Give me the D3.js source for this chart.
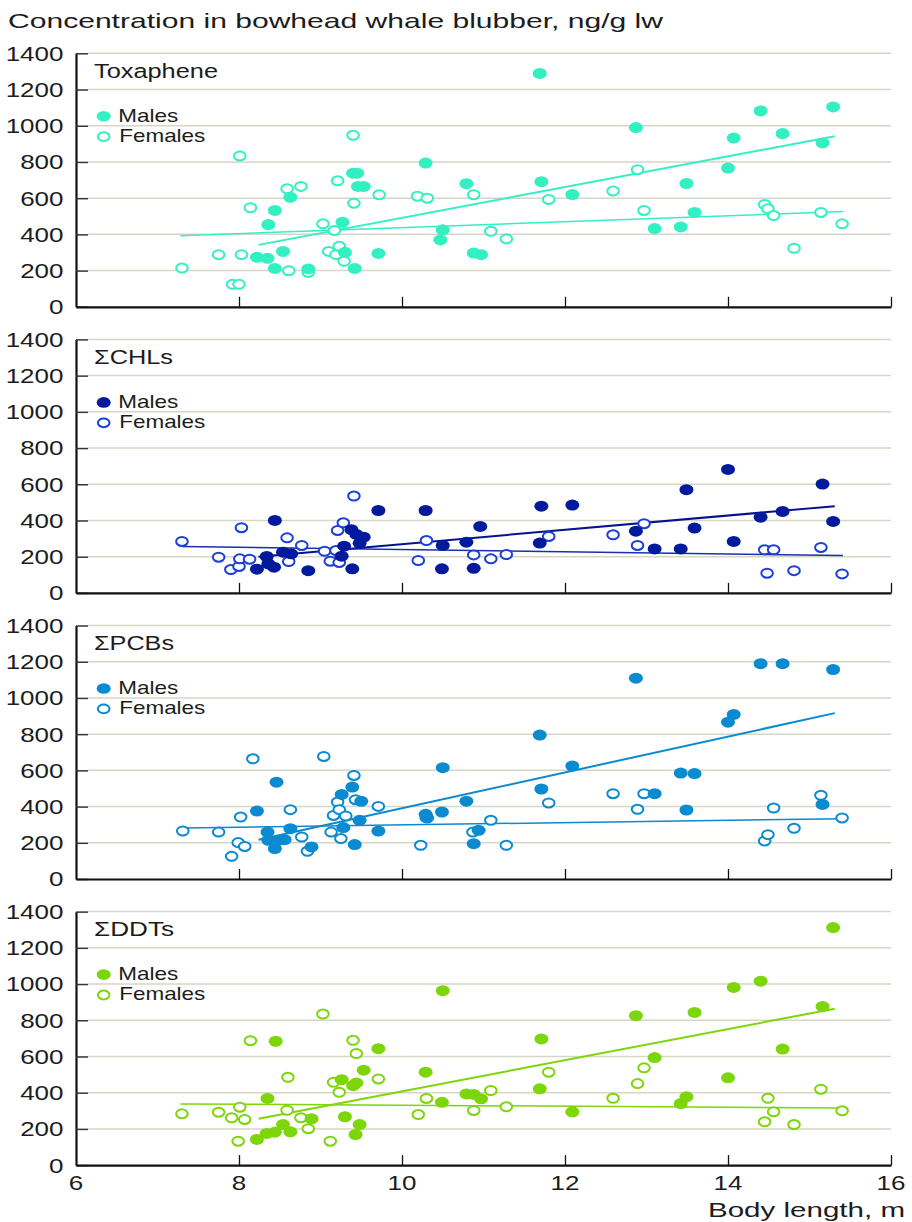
<!DOCTYPE html>
<html>
<head>
<meta charset="utf-8">
<script src="https://cdn.jsdelivr.net/npm/d3@7"></script>
<style>
  body { margin: 0; background: #fff; }
  svg { display: block; }
  text { font-family: "Liberation Sans", Arial, sans-serif; fill: #1c1c1c; }
</style>
</head>
<body>
<div id="chart"></div>
<script>
const width = 912
const height = 1222

const yTicks = [0, 200, 400, 600, 800, 1000, 1200, 1400]
const xTicks = [6, 8, 10, 12, 14, 16]
const panelNames = ['Toxaphene', '\u03A3CHLs', '\u03A3PCBs', '\u03A3DDTs']
const legendLabels = ['Males', 'Females']

// body length (m), concentration (ng/g lw)
const toxMales = [[8.22,273],[8.35,268],[8.36,454],[8.44,532],[8.44,212],[8.54,306],[8.63,605],[8.85,209],[9.27,467],[9.30,301],[9.40,738],[9.45,738],[9.42,212],[9.46,665],[9.53,665],[9.71,295],[10.29,794],[10.47,369],[10.50,425],[10.79,680],[10.88,297],[10.97,288],[11.69,1289],[11.71,691],[12.09,620],[12.87,990],[13.10,432],[13.42,441],[13.49,681],[13.59,521],[14.00,766],[14.07,932],[14.40,1082],[14.67,957],[15.16,905],[15.29,1104]]
const toxFemales = [[7.30,214],[7.75,288],[7.92,124],[8.00,124],[8.01,833],[8.03,288],[8.14,547],[8.59,652],[8.61,199],[8.76,665],[8.85,190],[9.03,458],[9.10,306],[9.17,421],[9.19,288],[9.21,696],[9.23,334],[9.29,251],[9.40,947],[9.41,572],[9.72,619],[10.19,611],[10.31,600],[10.88,619],[11.09,417],[11.28,375],[11.80,593],[12.59,639],[12.89,757],[12.97,532],[14.45,565],[14.49,541],[14.56,504],[14.81,323],[15.14,521],[15.40,458]]
const chlMales = [[8.22,131],[8.34,201],[8.36,160],[8.43,142],[8.44,400],[8.54,225],[8.64,216],[8.85,123],[9.26,203],[9.29,258],[9.38,349],[9.39,133],[9.44,323],[9.48,274],[9.53,308],[9.71,455],[10.29,455],[10.49,133],[10.50,262],[10.79,280],[10.88,136],[10.96,367],[11.69,275],[11.71,479],[12.09,485],[12.87,341],[13.10,243],[13.42,243],[13.49,570],[13.59,358],[14.00,682],[14.07,284],[14.40,418],[14.67,450],[15.16,601],[15.29,395]]
const chlFemales = [[7.30,284],[7.75,197],[7.90,129],[8.00,146],[8.01,188],[8.03,360],[8.13,186],[8.59,304],[8.61,173],[8.77,262],[9.05,230],[9.12,175],[9.19,234],[9.21,345],[9.23,168],[9.28,387],[9.41,535],[10.20,179],[10.30,289],[10.88,210],[11.09,188],[11.28,212],[11.80,312],[12.59,321],[12.89,262],[12.97,382],[14.45,238],[14.48,109],[14.56,238],[14.81,123],[15.14,251],[15.40,105]]
const pcbMales = [[8.22,375],[8.35,259],[8.36,214],[8.44,168],[8.46,535],[8.48,214],[8.56,217],[8.63,278],[8.89,177],[9.26,467],[9.28,284],[9.39,508],[9.42,190],[9.48,324],[9.50,429],[9.71,265],[10.29,357],[10.30,339],[10.49,370],[10.50,615],[10.79,430],[10.88,195],[10.94,269],[11.69,795],[11.71,497],[12.09,624],[12.87,1109],[13.10,471],[13.42,585],[13.49,381],[13.59,582],[14.00,866],[14.07,909],[14.40,1189],[14.67,1189],[15.16,412],[15.29,1157]]
const pcbFemales = [[7.31,265],[7.75,259],[7.91,125],[7.99,201],[8.02,342],[8.07,180],[8.17,664],[8.63,383],[8.77,232],[8.84,153],[9.04,677],[9.13,259],[9.16,351],[9.21,425],[9.23,383],[9.25,223],[9.31,348],[9.41,572],[9.43,438],[9.71,401],[10.23,186],[10.31,337],[10.87,259],[11.09,324],[11.28,186],[11.80,420],[12.59,471],[12.89,385],[12.97,471],[14.45,210],[14.49,245],[14.56,392],[14.81,280],[15.14,462],[15.40,337]]
const ddtMales = [[8.22,142],[8.34,175],[8.35,368],[8.44,182],[8.45,684],[8.54,224],[8.63,184],[8.89,256],[9.26,472],[9.30,267],[9.40,439],[9.43,169],[9.44,454],[9.48,224],[9.53,524],[9.71,643],[10.29,513],[10.49,347],[10.50,963],[10.79,393],[10.88,390],[10.97,366],[11.69,421],[11.71,697],[12.09,294],[12.87,825],[13.10,594],[13.42,340],[13.49,377],[13.59,843],[14.00,482],[14.07,981],[14.40,1016],[14.67,641],[15.16,876],[15.29,1312]]
const ddtFemales = [[7.30,283],[7.75,292],[7.91,261],[7.99,132],[8.01,320],[8.07,252],[8.14,687],[8.59,303],[8.60,485],[8.76,261],[8.85,201],[9.03,834],[9.12,132],[9.16,457],[9.23,402],[9.40,689],[9.44,616],[9.71,476],[10.20,279],[10.30,368],[10.88,302],[11.09,412],[11.28,322],[11.80,513],[12.59,369],[12.89,450],[12.97,537],[14.45,239],[14.49,369],[14.56,294],[14.81,224],[15.14,419],[15.40,300]]

// fitted lines, [start, end]
const toxMaleLine = [[8.24,342],[15.31,942]]
const toxFemaleLine = [[7.28,392],[15.41,526]]
const chlMaleLine = [[8.24,200],[15.31,479]]
const chlFemaleLine = [[7.30,256],[15.41,206]]
const pcbMaleLine = [[8.24,217],[15.31,916]]
const pcbFemaleLine = [[7.31,282],[15.41,333]]
const ddtMaleLine = [[8.24,256],[15.31,864]]
const ddtFemaleLine = [[7.28,338],[15.41,316]]

const panels = [
  { name: panelNames[0], nameLen: 124, males: toxMales, females: toxFemales, mLine: toxMaleLine, fLine: toxFemaleLine,
    fill: '#33f0c2', stroke: '#33f0c2', mColor: '#33f0c2', fColor: '#33f0c2' },
  { name: panelNames[1], nameLen: 79, males: chlMales, females: chlFemales, mLine: chlMaleLine, fLine: chlFemaleLine,
    fill: '#041a9c', stroke: '#1a40d8', mColor: '#06128c', fColor: '#1a2eb0' },
  { name: panelNames[2], nameLen: 80, males: pcbMales, females: pcbFemales, mLine: pcbMaleLine, fLine: pcbFemaleLine,
    fill: '#0a8ad0', stroke: '#0a8ad0', mColor: '#0a8ad0', fColor: '#0a8ad0' },
  { name: panelNames[3], nameLen: 80, males: ddtMales, females: ddtFemales, mLine: ddtMaleLine, fLine: ddtFemaleLine,
    fill: '#7cd60a', stroke: '#7cd60a', mColor: '#7cd60a', fColor: '#7cd60a' }
]

const left = 76, right = 891
const firstTop = 53.3, panelH = 253.5, step = 286.1

const svg = d3.select('#chart').append('svg')
  .attr('width', width)
  .attr('height', height)

const x = d3.scaleLinear().domain([6, 16]).range([left, right])

svg.append('text')
  .attr('x', 8).attr('y', 28)
  .attr('font-size', 21)
  .attr('textLength', 655).attr('lengthAdjust', 'spacingAndGlyphs')
  .text('Concentration in bowhead whale blubber, ng/g lw')

panels.forEach((p, i) => {
  const top = firstTop + i * step
  const bottom = top + panelH
  const y = d3.scaleLinear().domain([0, 1400]).range([bottom, top])
  const g = svg.append('g')

  // grid
  g.selectAll('line.grid')
    .data(yTicks.filter(d => d > 0))
    .join('line')
    .attr('x1', left + 12).attr('x2', right)
    .attr('y1', d => y(d)).attr('y2', d => y(d))
    .attr('stroke', '#d7d5c6').attr('stroke-width', 1.5)

  // axes
  const yAxis = g.append('g')
    .attr('transform', `translate(${left},0)`)
    .call(d3.axisLeft(y).tickValues(yTicks).tickSize(-12).tickSizeOuter(0).tickFormat(''))
  yAxis.select('.domain').attr('stroke', '#111').attr('stroke-width', 2.2)
  yAxis.selectAll('.tick line').attr('stroke', '#333').attr('stroke-width', 1.5)

  const xAxis = g.append('g')
    .attr('transform', `translate(0,${bottom})`)
    .call(d3.axisBottom(x).tickValues(xTicks.slice(1)).tickSize(-10).tickSizeOuter(0).tickFormat(''))
  xAxis.select('.domain').attr('stroke', '#111').attr('stroke-width', 2.2)
  xAxis.selectAll('.tick line').attr('stroke', '#111').attr('stroke-width', 1.3)

  // y tick labels (the source font is set wide)
  g.selectAll('g.ylab')
    .data(yTicks)
    .join('g')
    .attr('transform', d => `translate(63.5,${y(d) + 7.4}) scale(1.3,1)`)
    .append('text')
    .attr('text-anchor', 'end')
    .attr('font-size', 20)
    .text(d => d)

  // fitted lines
  const line = d3.line().x(d => x(d[0])).y(d => y(d[1]))
  g.append('path').attr('d', line(p.fLine)).attr('fill', 'none')
    .attr('stroke', p.fColor).attr('stroke-width', 1.5)
  g.append('path').attr('d', line(p.mLine)).attr('fill', 'none')
    .attr('stroke', p.mColor).attr('stroke-width', 2)

  // points
  g.selectAll('ellipse.f')
    .data(p.females)
    .join('ellipse')
    .attr('cx', d => x(d[0])).attr('cy', d => y(d[1]))
    .attr('rx', 5.8).attr('ry', 4.5)
    .attr('fill', '#fff').attr('stroke', p.stroke).attr('stroke-width', 2)
  g.selectAll('ellipse.m')
    .data(p.males)
    .join('ellipse')
    .attr('cx', d => x(d[0])).attr('cy', d => y(d[1]))
    .attr('rx', 7).attr('ry', 5.5)
    .attr('fill', p.fill)

  // panel name and legend
  g.append('text')
    .attr('x', 94).attr('y', top + 24.8)
    .attr('font-size', 20.5)
    .attr('textLength', p.nameLen).attr('lengthAdjust', 'spacingAndGlyphs')
    .text(p.name)

  g.append('ellipse')
    .attr('cx', 103.7).attr('cy', top + 63)
    .attr('rx', 7).attr('ry', 5.3).attr('fill', p.fill)
  g.append('ellipse')
    .attr('cx', 103.7).attr('cy', top + 83.4)
    .attr('rx', 5.8).attr('ry', 4.4)
    .attr('fill', '#fff').attr('stroke', p.stroke).attr('stroke-width', 2)
  g.append('text')
    .attr('x', 118.3).attr('y', top + 68.2)
    .attr('font-size', 19)
    .attr('textLength', 60).attr('lengthAdjust', 'spacingAndGlyphs')
    .text(legendLabels[0])
  g.append('text')
    .attr('x', 119.3).attr('y', top + 88.6)
    .attr('font-size', 19)
    .attr('textLength', 86).attr('lengthAdjust', 'spacingAndGlyphs')
    .text(legendLabels[1])

  if (i === panels.length - 1) {
    g.selectAll('g.xlab')
      .data(xTicks)
      .join('g')
      .attr('transform', d => `translate(${x(d)},${bottom + 24.5}) scale(1.3,1)`)
      .append('text')
      .attr('text-anchor', 'middle')
      .attr('font-size', 20)
      .text(d => d)
  }
})

svg.append('text')
  .attr('x', 708).attr('y', 1216.5)
  .attr('font-size', 21)
  .attr('textLength', 197).attr('lengthAdjust', 'spacingAndGlyphs')
  .text('Body length, m')
</script>
</body>
</html>
